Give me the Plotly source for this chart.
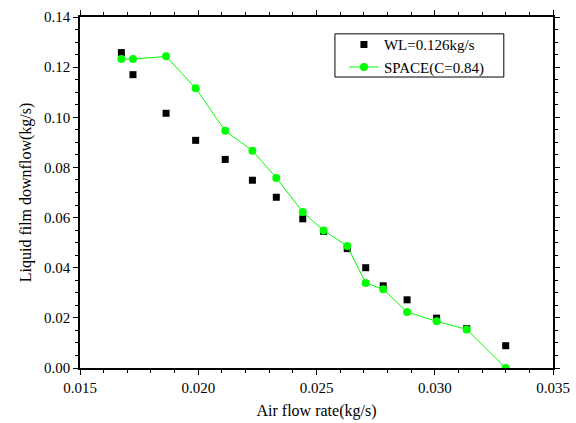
import plotly.graph_objects as go

wl_x = [0.01675, 0.01724, 0.01864, 0.01989, 0.02114, 0.02229, 0.02330, 0.02442,
        0.02530, 0.02630, 0.02708, 0.02782, 0.02883, 0.03008, 0.03135, 0.03300]
wl_y = [0.1258, 0.1170, 0.1016, 0.0908, 0.0832, 0.0749, 0.0681, 0.0595,
        0.0545, 0.0476, 0.0400, 0.0328, 0.0272, 0.0199, 0.0157, 0.0089]

sp_x = [0.01675, 0.01724, 0.01864, 0.01989, 0.02114, 0.02229, 0.02330, 0.02442,
        0.02530, 0.02630, 0.02708, 0.02782, 0.02883, 0.03008, 0.03135, 0.03300]
sp_y = [0.1232, 0.1232, 0.1243, 0.1116, 0.0946, 0.0867, 0.0758, 0.0622,
        0.0548, 0.0487, 0.0339, 0.0314, 0.0223, 0.0186, 0.0154, 0.0000]

font = "Liberation Serif"

fig = go.Figure()
fig.add_trace(go.Scatter(x=wl_x, y=wl_y, mode="markers", name="WL=0.126kg/s",
                         marker=dict(symbol="square", size=7, color="black")))
fig.add_trace(go.Scatter(x=sp_x, y=sp_y, mode="lines+markers", name="SPACE(C=0.84)",
                         line=dict(color="#00ff00", width=1),
                         marker=dict(symbol="circle", size=8, color="#00ff00")))

axis_common = dict(showline=True, linecolor="black", linewidth=1.5, mirror="allticks",
                   ticks="outside", ticklen=5, tickwidth=1, tickcolor="black",
                   showgrid=False, zeroline=False, automargin=False,
                   tickfont=dict(family=font, size=15, color="black"),
                   minor=dict(ticks="outside", ticklen=3, tickwidth=1, tickcolor="black"))

fig.update_xaxes(range=[0.015, 0.035], dtick=0.005, tickformat=".3f",
                 title=dict(text="Air flow rate(kg/s)", font=dict(family=font, size=16, color="black"),
                            standoff=10),
                 **axis_common)
fig.update_yaxes(range=[0, 0.14], dtick=0.02, tickformat=".2f",
                 title=dict(text="Liquid film downflow(kg/s)", font=dict(family=font, size=16, color="black"),
                            standoff=8),
                 **axis_common)

# legend frame
fig.add_shape(type="rect", xref="paper", yref="paper",
              x0=0.539, x1=0.896, y0=0.829, y1=0.952,
              line=dict(color="black", width=1), fillcolor="rgba(0,0,0,0)", layer="above")

fig.update_layout(
    width=576, height=423,
    margin=dict(l=80, r=23, t=17, b=55, autoexpand=False),
    plot_bgcolor="white", paper_bgcolor="white",
    font=dict(family=font, color="black"),
    legend=dict(x=0.558, y=0.968, xanchor="left", yanchor="top",
                borderwidth=0, bgcolor="rgba(0,0,0,0)",
                font=dict(family=font, size=15, color="black"),
                tracegroupgap=0, itemwidth=30),
    showlegend=True,
)

fig.write_html("out.html", config={"displayModeBar": False},
               post_script="document.body.style.margin='0px';document.body.style.overflow='hidden';")
